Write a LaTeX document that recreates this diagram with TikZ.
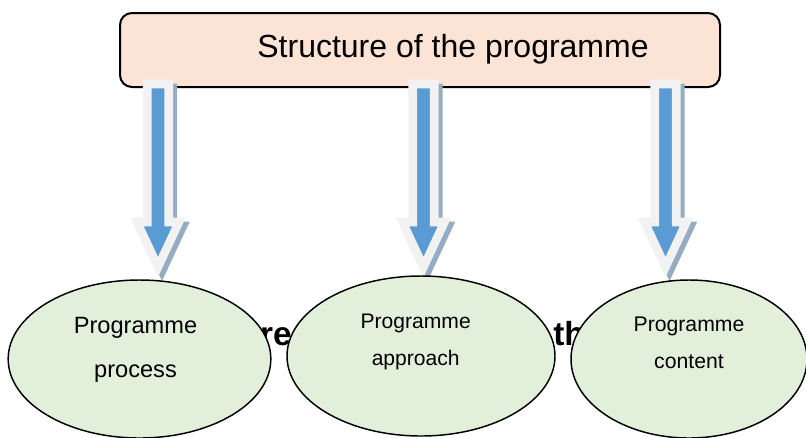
\documentclass[tikz,border=0pt]{standalone}
\usepackage{fontspec}
\setmainfont{Liberation Sans}
\usetikzlibrary{shapes.geometric}
\definecolor{boxpeach}{RGB}{251,228,214}
\definecolor{ellgreen}{RGB}{226,239,218}
\definecolor{arrblue}{RGB}{91,155,213}
\definecolor{arrrim}{RGB}{242,242,242}
\definecolor{arrshade}{RGB}{150,172,196}
\begin{document}
\begin{tikzpicture}[x=0.75pt,y=-0.75pt,
  titlebox/.style={draw,line width=1.5pt,fill=boxpeach,rounded corners=9pt,inner sep=0pt},
  ell/.style={ellipse,draw,line width=1.1pt,fill=ellgreen,inner sep=0pt},
  txt/.style={inner sep=0pt,anchor=base},
  downarrow/.pic={
    \path[fill=arrshade,draw=arrshade,line width=6.4pt,line join=miter,shift={(4,4)}]
      (-10.75,4) -- (10.75,4) -- (10.75,142) -- (21,142) -- (0,187) -- (-21,142) -- (-10.75,142) -- cycle;
    \path[fill=arrblue,draw=arrrim,line width=6.4pt,line join=miter]
      (-10.75,4) -- (10.75,4) -- (10.75,142) -- (21,142) -- (0,187) -- (-21,142) -- (-10.75,142) -- cycle;
  }]
\useasboundingbox (0,0) rectangle (806,437);
%\draw[step=50,very thin,color=gray] (0,0) grid (806,437);

% top box
\node[titlebox,minimum width=450pt,minimum height=55.5pt] (title) at (420,50) {};
\node[txt,font=\fontsize{24}{28}\selectfont] (titletext) at (453,57) {Structure of the programme};

% text behind the ellipses
\node[inner sep=0pt,anchor=base east,font=\bfseries\fontsize{25}{30}\selectfont] (hidre) at (292,345) {re};
\node[inner sep=0pt,anchor=base west,font=\bfseries\fontsize{25}{30}\selectfont] (hidth) at (553,345) {th};

% arrows
\pic (arrproc) at (158,80) {downarrow};
\pic (arrappr) at (423.5,80) {downarrow};
\pic (arrcont) at (665.5,80) {downarrow};

% ellipses
\node[ell,minimum width=197pt,minimum height=118.5pt] (proc) at (139.5,359) {};
\node[ell,minimum width=201pt,minimum height=120pt] (appr) at (421,356) {};
\node[ell,minimum width=177pt,minimum height=118.5pt] (cont) at (689,359) {};

\node[txt,font=\fontsize{17.7}{21}\selectfont] (proc1) at (135.5,333) {Programme};
\node[txt,font=\fontsize{17.7}{21}\selectfont] (proc2) at (135.5,377) {process};
\node[txt,font=\fontsize{15.8}{19}\selectfont] (appr1) at (415.7,328) {Programme};
\node[txt,font=\fontsize{15.8}{19}\selectfont] (appr2) at (415.7,365) {approach};
\node[txt,font=\fontsize{15.9}{19}\selectfont] (cont1) at (689,331) {Programme};
\node[txt,font=\fontsize{15.9}{19}\selectfont] (cont2) at (689,368) {content};
\end{tikzpicture}
\end{document}
